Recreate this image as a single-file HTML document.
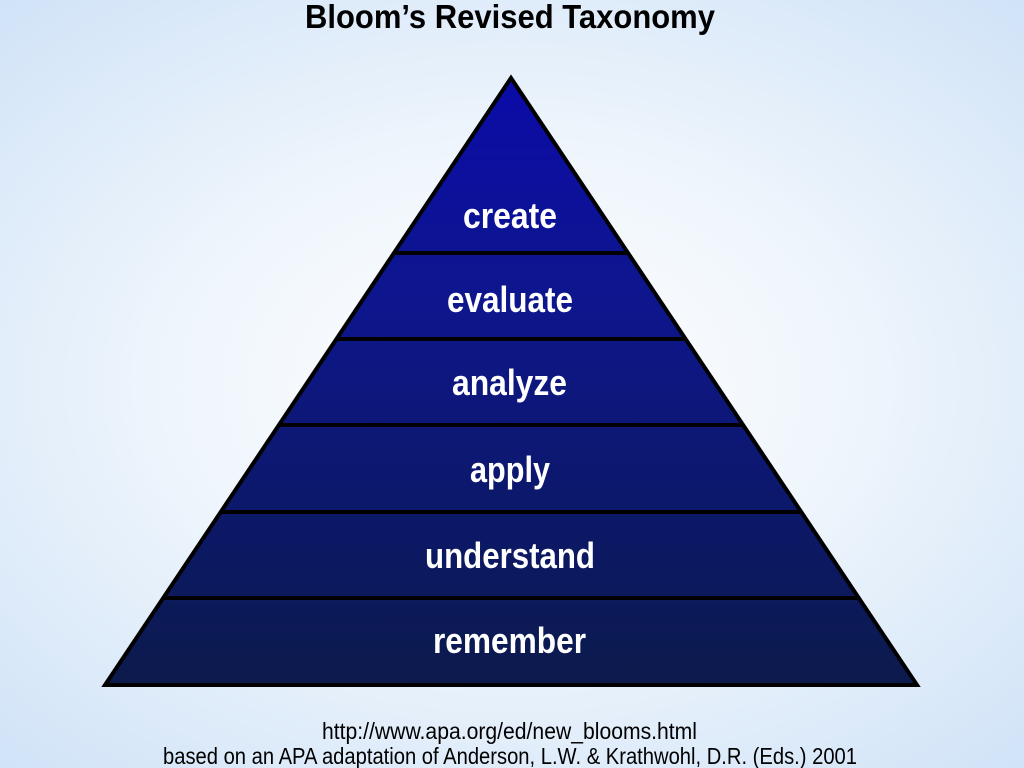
<!DOCTYPE html>
<html><head><style>
html,body{margin:0;padding:0;}
body{width:1024px;height:768px;overflow:hidden;background:radial-gradient(ellipse 75% 70% at 50% 50%,#ffffff 0%,#eef5fc 45%,#cfe2f7 100%);}
svg{display:block}
text{font-family:"Liberation Sans",sans-serif;font-weight:bold;}
</style></head><body>
<svg width="1024" height="768" viewBox="0 0 1024 768">
<defs>
<linearGradient id="g" x1="0" y1="78" x2="0" y2="685" gradientUnits="userSpaceOnUse">
<stop offset="0" stop-color="#0b0ba8"/>
<stop offset="0.35" stop-color="#0d168e"/>
<stop offset="1" stop-color="#0c1a4c"/>
</linearGradient>
</defs>
<text x="305" y="28" textLength="410" lengthAdjust="spacingAndGlyphs" font-size="33" fill="#000">Bloom’s Revised Taxonomy</text>
<polygon points="511,78 917,685 105,685" fill="url(#g)" stroke="#000" stroke-width="4" stroke-linejoin="miter"/>
<g stroke="#000" stroke-width="4">
<line x1="394" y1="253" x2="628" y2="253"/>
<line x1="336" y1="339" x2="686" y2="339"/>
<line x1="279" y1="425" x2="743" y2="425"/>
<line x1="221" y1="512" x2="801" y2="512"/>
<line x1="163" y1="598" x2="859" y2="598"/>
</g>
<g fill="#fff" font-size="36">
<text x="463" y="228" textLength="94" lengthAdjust="spacingAndGlyphs">create</text>
<text x="447" y="312" textLength="126" lengthAdjust="spacingAndGlyphs">evaluate</text>
<text x="452" y="395" textLength="115" lengthAdjust="spacingAndGlyphs">analyze</text>
<text x="470" y="482" textLength="80" lengthAdjust="spacingAndGlyphs">apply</text>
<text x="425" y="568" textLength="170" lengthAdjust="spacingAndGlyphs">understand</text>
<text x="433" y="653" textLength="153" lengthAdjust="spacingAndGlyphs">remember</text>
</g>
<g fill="#000" font-size="23">
<text x="322" y="739" textLength="375" lengthAdjust="spacingAndGlyphs" style="font-weight:normal">http://www.apa.org/ed/new_blooms.html</text>
<text x="163" y="764" textLength="694" lengthAdjust="spacingAndGlyphs" style="font-weight:normal">based on an APA adaptation of Anderson, L.W. &amp; Krathwohl, D.R. (Eds.) 2001</text>
</g>
</svg>
</body></html>
